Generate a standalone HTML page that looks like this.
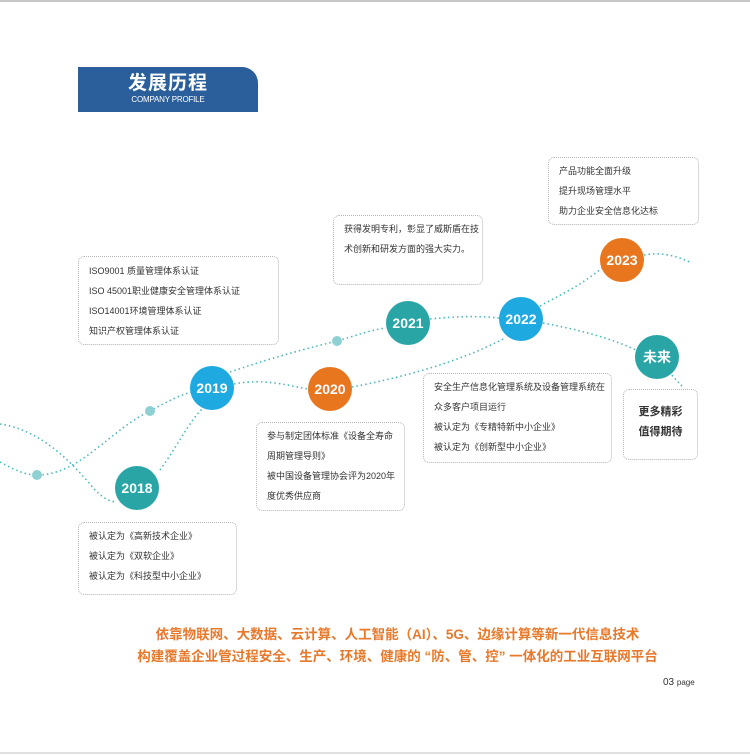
<!DOCTYPE html>
<html><head><meta charset="utf-8"><style>
*{margin:0;padding:0;box-sizing:border-box}
body{width:750px;height:756px;background:#fff;position:relative;overflow:hidden;font-family:"Liberation Sans","Noto Sans CJK SC",sans-serif;color:#333}
.hdr{position:absolute;left:78px;top:67px;width:180px;height:45px;background:#2b5f9c;border-top-right-radius:16px;color:#fff;text-align:center}
.hdr .t{font-size:19px;font-weight:bold;line-height:20px;margin-top:7px;letter-spacing:1px}
.hdr .s{font-size:8px;line-height:12px;letter-spacing:-0.2px}
.box{position:absolute;border:1.5px dotted #b5b5b5;border-radius:6px;background:rgba(255,255,255,.85);font-size:9px;color:#333;padding:6px 10px}
.box p{line-height:20px;white-space:nowrap}
.c{position:absolute;width:44px;height:44px;border-radius:50%;color:#fff;font-weight:bold;font-size:14px;text-align:center;line-height:44px}
.teal{background:#2aa5a6}.blue{background:#1ea9e1}.orange{background:#e7761f}
.bt{position:absolute;left:0;width:750px;text-align:center;color:#e8782a;font-weight:bold;font-size:13.5px;line-height:22px}
</style></head><body>
<div style="position:absolute;left:0;top:0;width:750px;height:2px;background:#c8c8c8"></div>
<div style="position:absolute;left:0;bottom:2px;width:750px;height:2px;background:#e0e0e0"></div>
<svg width="750" height="756" style="position:absolute;left:0;top:0">
<g fill="none" stroke="#4bb8bd" stroke-width="1.6" stroke-dasharray="1.5 3">
<path d="M0 424 C40 430 70 460 95 490 C105 500 112 502 117 502"/>
<path d="M0 462 C15 470 25 475 37 475 C80 475 110 430 150 411 C170 400 180 395 192 392"/>
<path d="M160 470 C175 450 190 420 203 408"/>
<path d="M234 384 C265 378 290 386 308 389"/>
<path d="M230 372 C265 360 300 350 337 341 C355 336 370 330 386 328"/>
<path d="M352 387 C400 378 460 362 505 338"/>
<path d="M430 319 C460 316 480 316 499 318"/>
<path d="M540 306 C560 295 580 286 602 268"/>
<path d="M644 255 C660 252 675 255 692 263"/>
<path d="M543 323 C580 330 610 338 636 350"/>
<path d="M672 375 C675 379 678 382 682 386"/>
</g>
<g fill="#8fd0d3"><circle cx="37" cy="475" r="5"/><circle cx="150" cy="411" r="5"/><circle cx="337" cy="341" r="5"/></g>
</svg>
<div class="hdr"><div class="t">发展历程</div><div class="s">COMPANY PROFILE</div></div>

<div class="box" style="left:78px;top:256px;width:201px;height:89px;padding-top:4px"><p>ISO9001 质量管理体系认证</p><p>ISO 45001职业健康安全管理体系认证</p><p>ISO14001环境管理体系认证</p><p>知识产权管理体系认证</p></div>
<div class="box" style="left:333px;top:215px;width:150px;height:70px;padding-top:3px"><p>获得发明专利，彰显了威斯盾在技</p><p>术创新和研发方面的强大实力。</p></div>
<div class="box" style="left:548px;top:157px;width:151px;height:68px;padding-top:3px"><p>产品功能全面升级</p><p>提升现场管理水平</p><p>助力企业安全信息化达标</p></div>
<div class="box" style="left:423px;top:373px;width:189px;height:90px;padding-top:3px"><p>安全生产信息化管理系统及设备管理系统在</p><p>众多客户项目运行</p><p>被认定为《专精特新中小企业》</p><p>被认定为《创新型中小企业》</p></div>
<div class="box" style="left:623px;top:389px;width:75px;height:71px;font-size:11px;font-weight:bold;text-align:center;padding:12px 0 0"><p>更多精彩</p><p>值得期待</p></div>
<div class="box" style="left:256px;top:422px;width:149px;height:89px;padding-top:3px"><p>参与制定团体标准《设备全寿命</p><p>周期管理导则》</p><p>被中国设备管理协会评为2020年</p><p>度优秀供应商</p></div>
<div class="box" style="left:78px;top:522px;width:159px;height:73px;padding-top:3px"><p>被认定为《高新技术企业》</p><p>被认定为《双软企业》</p><p>被认定为《科技型中小企业》</p></div>

<div class="c teal" style="left:115px;top:466px">2018</div>
<div class="c blue" style="left:190px;top:366px">2019</div>
<div class="c orange" style="left:308px;top:367px">2020</div>
<div class="c teal" style="left:386px;top:301px">2021</div>
<div class="c blue" style="left:499px;top:297px">2022</div>
<div class="c orange" style="left:600px;top:238px">2023</div>
<div class="c teal" style="left:635px;top:335px">未来</div>

<div class="bt" style="top:624px;padding-left:45px">依靠物联网、大数据、云计算、人工智能（AI）、5G、边缘计算等新一代信息技术</div>
<div class="bt" style="top:646px;padding-left:45px">构建覆盖企业管过程安全、生产、环境、健康的 “防、管、控” 一体化的工业互联网平台</div>
<div style="position:absolute;left:663px;top:677px;font-size:10px;color:#333">03 <span style="font-size:8px">page</span></div>
</body></html>
